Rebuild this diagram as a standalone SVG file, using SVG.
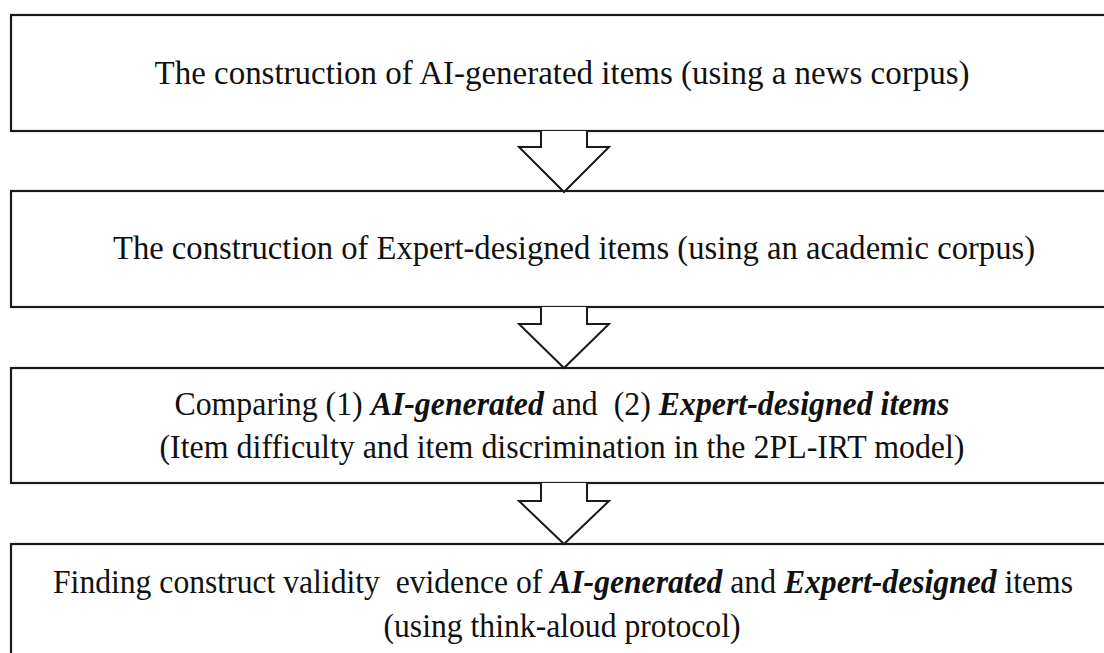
<svg xmlns="http://www.w3.org/2000/svg" width="1104" height="653" viewBox="0 0 1104 653">
<style>
.box{fill:#fff;stroke:#1a1a1a;stroke-width:2.2}
.arr{fill:#fff;stroke:#1a1a1a;stroke-width:2;stroke-linejoin:miter}
.t{font-family:'Liberation Serif',serif;font-size:33px;fill:#111;text-anchor:middle}
.bi{font-weight:bold;font-style:italic}
</style>
<rect width="1104" height="653" fill="#fff"/>
<g id="node1"><rect class="box" x="11" y="15" width="1110" height="116"/>
<text class="t" x="562" y="84" textLength="815" lengthAdjust="spacingAndGlyphs">The construction of AI-generated items (using a news corpus)</text></g>
<g id="node2"><rect class="box" x="11" y="191" width="1110" height="116"/>
<text class="t" x="574" y="259" textLength="922" lengthAdjust="spacingAndGlyphs">The construction of Expert-designed items (using an academic corpus)</text></g>
<g id="node3"><rect class="box" x="11" y="368" width="1110" height="115"/>
<text class="t" x="562" y="415" textLength="775" lengthAdjust="spacingAndGlyphs">Comparing (1) <tspan class="bi">AI-generated</tspan> and&#160; (2) <tspan class="bi">Expert-designed items</tspan></text>
<text class="t" x="562" y="458" textLength="805" lengthAdjust="spacingAndGlyphs">(Item difficulty and item discrimination in the 2PL-IRT model)</text></g>
<g id="node4"><rect class="box" x="11" y="544" width="1110" height="120"/>
<text class="t" x="563" y="593" textLength="1020" lengthAdjust="spacingAndGlyphs">Finding construct validity&#160; evidence of <tspan class="bi">AI-generated</tspan> and <tspan class="bi">Expert-designed</tspan> items</text>
<text class="t" x="562" y="637" textLength="357" lengthAdjust="spacingAndGlyphs">(using think-aloud protocol)</text></g>
<g id="connectors">
<path class="arr" d="M541 131 V147 H519 L564 192 L609 147 H587 V131"/>
<path class="arr" d="M541 307 V324 H519 L564 368 L609 324 H587 V307"/>
<path class="arr" d="M541 483 V501 H519 L564 544 L609 501 H587 V483"/>
</g>
</svg>
